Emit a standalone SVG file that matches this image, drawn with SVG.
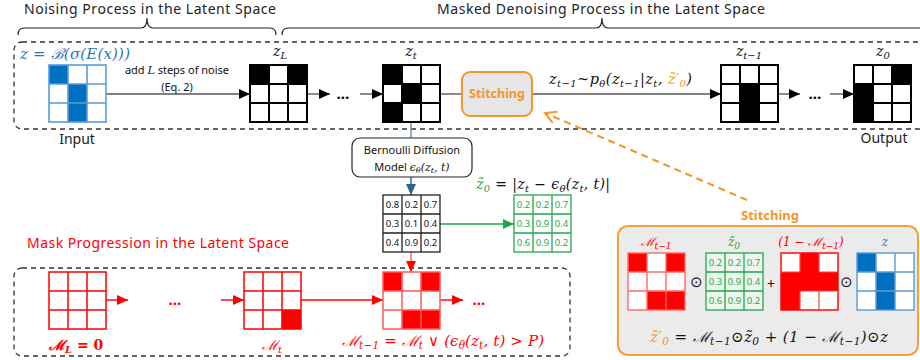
<svg xmlns="http://www.w3.org/2000/svg" xmlns:xlink="http://www.w3.org/1999/xlink" width="920" height="360" viewBox="0 0 920 360">
<style>
.s{font-family:"Noto Sans","Open Sans",sans-serif;}
.m{font-family:"DejaVu Serif","Liberation Serif",serif;font-style:italic;}
.num{font-family:"Noto Sans","Open Sans",sans-serif;font-size:9.5px;text-anchor:middle;}
.dash{fill:none;stroke:#333;stroke-width:1.3;stroke-dasharray:5,4;}
.brace{fill:none;stroke:#222;stroke-width:1.2;}
.dots{font-family:"Noto Sans",sans-serif;font-size:15px;font-weight:bold;text-anchor:middle;}
</style>
<defs>
<g id="grid"><rect x="0" y="0" width="57" height="57" fill="none"/><path d="M19,0V57M38,0V57M0,19H57M0,38H57" fill="none"/></g>
<marker id="ak" markerUnits="userSpaceOnUse" markerWidth="12" markerHeight="10" refX="11" refY="5" orient="auto"><path d="M0,0L11,5L0,10z" fill="#000"/></marker>
<marker id="ar" markerUnits="userSpaceOnUse" markerWidth="12" markerHeight="10" refX="11" refY="5" orient="auto"><path d="M0,0L11,5L0,10z" fill="#f00"/></marker>
<marker id="ag" markerUnits="userSpaceOnUse" markerWidth="12" markerHeight="10" refX="11" refY="5" orient="auto"><path d="M0,0L11,5L0,10z" fill="#1fa84a"/></marker>
<marker id="ab" markerUnits="userSpaceOnUse" markerWidth="12" markerHeight="10" refX="11" refY="5" orient="auto"><path d="M0,0L11,5L0,10z" fill="#2a6688"/></marker>
<marker id="ao" markerUnits="userSpaceOnUse" markerWidth="14" markerHeight="14" refX="12" refY="7" orient="auto"><path d="M1,1L12,7L1,13" fill="none" stroke="#f5962a" stroke-width="2"/></marker>
</defs>
<rect width="920" height="360" fill="#fff"/>

<g id="frames">
<rect class="dash" x="14" y="42" width="912" height="87" rx="8"/>
<rect class="dash" x="14" y="268" width="556" height="88" rx="8"/>
</g>

<g id="title-noising">
<path class="brace" d="M18,35Q18,28 24,28L141,28Q147,28 147,18Q147,28 153,28L270,28Q276,28 276,35"/>
<text class="s" x="150" y="14" font-size="14" text-anchor="middle" fill="#222" textLength="252">Noising Process in the Latent Space</text>
</g>
<g id="title-denoising">
<path class="brace" d="M282,35Q282,28 288,28L596,28Q602,28 602,18Q602,28 608,28L920,28"/>
<text class="s" x="601" y="14" font-size="14" text-anchor="middle" fill="#222" textLength="328">Masked Denoising Process in the Latent Space</text>
</g>

<g id="connectors" fill="none" stroke-width="1.4">
<line x1="106" y1="94" x2="250" y2="94" stroke="#595959" marker-end="url(#ak)"/>
<line x1="307" y1="94" x2="330" y2="94" stroke="#595959" marker-end="url(#ak)"/>
<line x1="360" y1="94" x2="383" y2="94" stroke="#595959" marker-end="url(#ak)"/>
<line x1="440" y1="94" x2="462" y2="94" stroke="#595959"/>
<line x1="532" y1="94" x2="721" y2="94" stroke="#595959" marker-end="url(#ak)"/>
<line x1="778" y1="94" x2="800" y2="94" stroke="#595959" marker-end="url(#ak)"/>
<line x1="830" y1="94" x2="854" y2="94" stroke="#595959" marker-end="url(#ak)"/>
<line x1="411" y1="122" x2="411" y2="138" stroke="#5b8fb0"/>
<line x1="411" y1="177" x2="411" y2="195" stroke="#2a6688" marker-end="url(#ab)"/>
<line x1="440" y1="224" x2="514" y2="224" stroke="#1fa84a" marker-end="url(#ag)"/>
<line x1="411" y1="252" x2="411" y2="272" stroke="#ff6060" marker-end="url(#ar)"/>
<line x1="106" y1="300" x2="128" y2="300" stroke="#f00" marker-end="url(#ar)"/>
<line x1="221" y1="300" x2="244" y2="300" stroke="#f00" marker-end="url(#ar)"/>
<line x1="301" y1="300" x2="383" y2="300" stroke="#f00" marker-end="url(#ar)"/>
<line x1="440" y1="300" x2="463" y2="300" stroke="#f00" marker-end="url(#ar)"/>
<line x1="747" y1="200" x2="545" y2="113" stroke="#f5962a" stroke-width="2" stroke-dasharray="7,5" marker-end="url(#ao)"/>
<text class="dots" x="343" y="99" fill="#000" stroke="none">…</text>
<text class="dots" x="815" y="99" fill="#000" stroke="none">…</text>
<text class="dots" x="175" y="305" fill="#f00" stroke="none">…</text>
<text class="dots" x="479" y="305" fill="#f00" stroke="none">…</text>
<text class="s" x="177" y="74" font-size="11" text-anchor="middle" fill="#111" stroke="none">add <tspan class="m">L</tspan> steps of noise</text>
<text class="s" x="177" y="91" font-size="11" text-anchor="middle" fill="#111" stroke="none">(Eq. 2)</text>
<text class="m" x="549" y="84" font-size="14.5" fill="#111" stroke="none" textLength="143">z<tspan font-size="10" dy="3">t−1</tspan><tspan dy="-3">~p</tspan><tspan font-size="10" dy="3">θ</tspan><tspan dy="-3">(z</tspan><tspan font-size="10" dy="3">t−1</tspan><tspan dy="-3">|z</tspan><tspan font-size="10" dy="3">t</tspan><tspan dy="-3">, </tspan><tspan fill="#f5962a">z̃′</tspan><tspan fill="#f5962a" font-size="10" dy="3">0</tspan><tspan dy="-3">)</tspan></text>
</g>

<g id="n-input">
<text class="m" x="20" y="59" font-size="15" fill="#2e75b6" textLength="110">z = ℬ(σ(E(x)))</text>
<rect x="49" y="65" width="19" height="19" fill="#0070c0"/>
<rect x="68" y="84" width="19" height="38" fill="#0070c0"/>
<use xlink:href="#grid" x="49" y="65" stroke="#5b9bd5" stroke-width="1.6"/>
<text class="s" x="77" y="144" font-size="14" text-anchor="middle" fill="#222">Input</text>
</g>

<g id="n-zL">
<text class="m" x="280" y="56" font-size="14" text-anchor="middle" fill="#111">z<tspan font-size="10" dy="3">L</tspan></text>
<rect x="250" y="65" width="19" height="19" fill="#000"/>
<rect x="288" y="65" width="19" height="19" fill="#000"/>
<use xlink:href="#grid" x="250" y="65" stroke="#000" stroke-width="2"/>
</g>

<g id="n-zt">
<text class="m" x="411" y="56" font-size="14" text-anchor="middle" fill="#111">z<tspan font-size="10" dy="3">t</tspan></text>
<rect x="383" y="65" width="19" height="19" fill="#000"/>
<rect x="402" y="84" width="19" height="19" fill="#000"/>
<rect x="383" y="103" width="19" height="19" fill="#000"/>
<use xlink:href="#grid" x="383" y="65" stroke="#000" stroke-width="2"/>
</g>

<g id="n-stitch">
<rect x="462" y="72" width="70" height="44" rx="8" fill="#e6e6e6" stroke="#f5962a" stroke-width="2"/>
<text class="s" x="497" y="98" font-size="12.5" font-weight="bold" text-anchor="middle" fill="#f5962a">Stitching</text>
</g>

<g id="n-zt1">
<text class="m" x="749" y="56" font-size="14" text-anchor="middle" fill="#111">z<tspan font-size="10" dy="3">t−1</tspan></text>
<rect x="740" y="84" width="19" height="38" fill="#000"/>
<use xlink:href="#grid" x="721" y="65" stroke="#000" stroke-width="2"/>
</g>

<g id="n-z0">
<text class="m" x="883" y="56" font-size="14" text-anchor="middle" fill="#111">z<tspan font-size="10" dy="3">0</tspan></text>
<rect x="892" y="65" width="19" height="19" fill="#000"/>
<rect x="854" y="84" width="19" height="38" fill="#000"/>
<use xlink:href="#grid" x="854" y="65" stroke="#000" stroke-width="2"/>
<text class="s" x="884" y="143" font-size="14" text-anchor="middle" fill="#222">Output</text>
</g>

<g id="n-bdm">
<rect x="352" y="138" width="120" height="39" rx="8" fill="#fff" stroke="#222" stroke-width="1.2"/>
<text class="s" x="412" y="154" font-size="11" text-anchor="middle" fill="#111">Bernoulli Diffusion</text>
<text class="s" x="412" y="171" font-size="11" text-anchor="middle" fill="#111">Model <tspan class="m">ϵ</tspan><tspan class="m" font-size="8" dy="2">θ</tspan><tspan class="m" dy="-2">(z</tspan><tspan class="m" font-size="8" dy="2">t</tspan><tspan class="m" dy="-2">, t)</tspan></text>
</g>

<g id="n-eps">
<use xlink:href="#grid" x="383" y="195" stroke="#222" stroke-width="1.3"/>
<g class="num" fill="#111">
<text x="392.5" y="208">0.8</text><text x="411.5" y="208">0.2</text><text x="430.5" y="208">0.7</text>
<text x="392.5" y="227">0.3</text><text x="411.5" y="227">0.1</text><text x="430.5" y="227">0.4</text>
<text x="392.5" y="246">0.4</text><text x="411.5" y="246">0.9</text><text x="430.5" y="246">0.2</text>
</g>
</g>

<g id="n-z0tilde">
<text class="m" x="476" y="189" font-size="14" fill="#111" textLength="134"><tspan fill="#1fa84a">z̃</tspan><tspan fill="#1fa84a" font-size="10" dy="3">0</tspan><tspan dy="-3"> = |z</tspan><tspan font-size="10" dy="3">t</tspan><tspan dy="-3"> − ϵ</tspan><tspan font-size="10" dy="3">θ</tspan><tspan dy="-3">(z</tspan><tspan font-size="10" dy="3">t</tspan><tspan dy="-3">, t)|</tspan></text>
<use xlink:href="#grid" x="514" y="195" stroke="#1fa84a" stroke-width="1.3"/>
<g class="num" fill="#1fa84a">
<text x="523.5" y="208">0.2</text><text x="542.5" y="208">0.2</text><text x="561.5" y="208">0.7</text>
<text x="523.5" y="227">0.3</text><text x="542.5" y="227">0.9</text><text x="561.5" y="227">0.4</text>
<text x="523.5" y="246">0.6</text><text x="542.5" y="246">0.9</text><text x="561.5" y="246">0.2</text>
</g>
</g>

<g id="n-maskTitle">
<text class="s" x="27" y="248" font-size="14" fill="#f00" textLength="262">Mask Progression in the Latent Space</text>
</g>

<g id="n-ML">
<use xlink:href="#grid" x="49" y="272" stroke="#f00" stroke-width="1.5"/>
<text class="m" x="49" y="350" font-size="14" font-weight="bold" fill="#f00">ℳ<tspan font-size="10" dy="3">L</tspan><tspan dy="-3" font-style="normal"> = 0</tspan></text>
</g>

<g id="n-Mt">
<rect x="282" y="310" width="19" height="19" fill="#f00"/>
<use xlink:href="#grid" x="244" y="272" stroke="#f00" stroke-width="1.5"/>
<text class="m" x="262" y="350" font-size="14" fill="#f00">ℳ<tspan font-size="10" dy="3">t</tspan></text>
</g>

<g id="n-Mt1">
<rect x="383" y="272" width="19" height="19" fill="#f00"/>
<rect x="421" y="272" width="19" height="19" fill="#f00"/>
<rect x="402" y="310" width="38" height="19" fill="#f00"/>
<use xlink:href="#grid" x="383" y="272" stroke="#ff5a5a" stroke-width="1.5"/>
<text class="m" x="342" y="346" font-size="15" fill="#f00" textLength="202">ℳ<tspan font-size="10.5" dy="3">t−1</tspan><tspan dy="-3"> = ℳ</tspan><tspan font-size="10.5" dy="3">t</tspan><tspan dy="-3"> ∨ (ϵ</tspan><tspan font-size="10.5" dy="3">θ</tspan><tspan dy="-3">(z</tspan><tspan font-size="10.5" dy="3">t</tspan><tspan dy="-3">, t) &gt; P)</tspan></text>
</g>

<g id="n-stitchbox">
<text class="s" x="770" y="220" font-size="13" font-weight="bold" text-anchor="middle" fill="#f5962a">Stitching</text>
<rect x="618" y="226" width="300" height="129" rx="10" fill="#ebebeb" stroke="#f5a040" stroke-width="2"/>
<text class="m" x="656" y="246" font-size="12" text-anchor="middle" fill="#f00">ℳ<tspan font-size="9" dy="3">t−1</tspan></text>
<g fill="#fff"><rect x="628" y="253" width="57" height="57"/></g>
<rect x="628" y="253" width="19" height="19" fill="#f00"/>
<rect x="666" y="253" width="19" height="19" fill="#f00"/>
<rect x="647" y="291" width="38" height="19" fill="#f00"/>
<use xlink:href="#grid" x="628" y="253" stroke="#ff6a6a" stroke-width="1.4"/>
<text class="s" x="696" y="287" font-size="15" text-anchor="middle" fill="#111">⊙</text>
<text class="m" x="734" y="246" font-size="12" text-anchor="middle" fill="#1fa84a">z̃<tspan font-size="9" dy="3">0</tspan></text>
<rect x="706" y="253" width="57" height="57" fill="#eef6ee"/>
<use xlink:href="#grid" x="706" y="253" stroke="#1fa84a" stroke-width="1.3"/>
<g class="num" fill="#1fa84a">
<text x="715.5" y="266">0.2</text><text x="734.5" y="266">0.2</text><text x="753.5" y="266">0.7</text>
<text x="715.5" y="285">0.3</text><text x="734.5" y="285">0.9</text><text x="753.5" y="285">0.4</text>
<text x="715.5" y="304">0.6</text><text x="734.5" y="304">0.9</text><text x="753.5" y="304">0.2</text>
</g>
<text class="s" x="771" y="289" font-size="14" text-anchor="middle" fill="#111">+</text>
<text class="m" x="811" y="246" font-size="12" text-anchor="middle" fill="#f00">(1 − ℳ<tspan font-size="9" dy="3">t−1</tspan><tspan dy="-3">)</tspan></text>
<g fill="#fff"><rect x="781" y="253" width="57" height="57"/></g>
<rect x="800" y="253" width="19" height="19" fill="#f00"/>
<rect x="781" y="272" width="57" height="19" fill="#f00"/>
<rect x="781" y="291" width="19" height="19" fill="#f00"/>
<rect x="781" y="253" width="57" height="57" fill="none" stroke="#f00" stroke-width="1.4"/>
<path d="M781,253h19v19h-19zM819,253h19v19h-19zM800,291h19v19h-19zM819,291h19v19h-19z" fill="none" stroke="#ff4040" stroke-width="1.2"/>
<text class="s" x="846" y="287" font-size="15" text-anchor="middle" fill="#111">⊙</text>
<text class="m" x="885" y="246" font-size="12" text-anchor="middle" fill="#2e75b6">z</text>
<g fill="#fff"><rect x="857" y="253" width="57" height="57"/></g>
<rect x="857" y="253" width="19" height="19" fill="#0070c0"/>
<rect x="876" y="272" width="19" height="38" fill="#0070c0"/>
<use xlink:href="#grid" x="857" y="253" stroke="#5b9bd5" stroke-width="1.4"/>
<text class="m" x="650" y="342" font-size="15" fill="#111" textLength="238"><tspan fill="#f5962a">z̃′</tspan><tspan fill="#f5962a" font-size="10.5" dy="3">0</tspan><tspan dy="-3">  = ℳ</tspan><tspan font-size="10.5" dy="3">t−1</tspan><tspan dy="-3">⊙z̃</tspan><tspan font-size="10.5" dy="3">0</tspan><tspan dy="-3"> + (1 − ℳ</tspan><tspan font-size="10.5" dy="3">t−1</tspan><tspan dy="-3">)⊙z</tspan></text>
</g>
</svg>
